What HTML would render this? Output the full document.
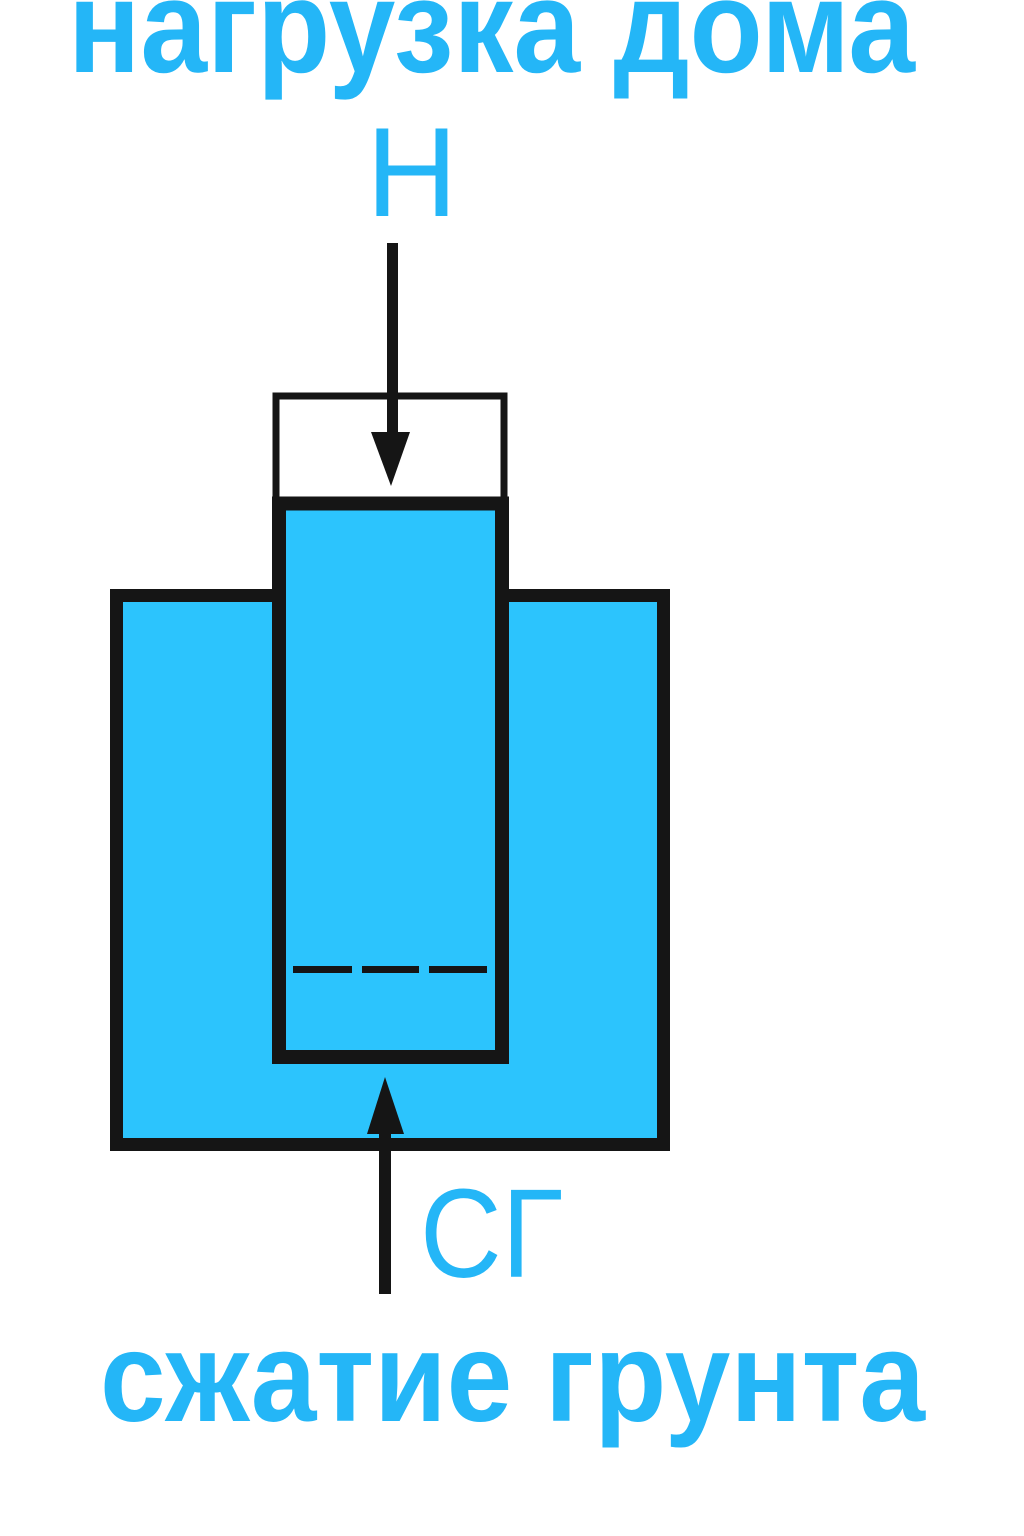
<!DOCTYPE html>
<html><head><meta charset="utf-8"><style>
html,body{margin:0;padding:0;background:#fff;}
svg{display:block;}
text{font-family:"Liberation Sans","DejaVu Sans",sans-serif;fill:#24b6f7;}
</style></head><body>
<svg width="1024" height="1536" viewBox="0 0 1024 1536" xmlns="http://www.w3.org/2000/svg">
<rect width="1024" height="1536" fill="#fff"/>
<text x="68" y="72" font-size="133" font-weight="bold" textLength="847" lengthAdjust="spacingAndGlyphs">нагрузка дома</text>
<text x="366" y="216" font-size="127">Н</text>
<rect x="116.5" y="595.5" width="547" height="549" fill="#2cc4fd" stroke="#151515" stroke-width="13"/>
<rect x="276" y="396" width="228" height="107" fill="#fff" stroke="#151515" stroke-width="7"/>
<rect x="279" y="503.5" width="223" height="553.5" fill="#2cc4fd" stroke="#151515" stroke-width="14"/>
<rect x="293" y="966" width="59" height="7" fill="#151515"/>
<rect x="362" y="966" width="57" height="7" fill="#151515"/>
<rect x="429" y="966" width="58" height="7" fill="#151515"/>
<rect x="387" y="243" width="11" height="192" fill="#151515"/>
<polygon points="371,432 410,432 391,486" fill="#151515"/>
<rect x="379" y="1128" width="12" height="166" fill="#151515"/>
<polygon points="367,1134 404,1134 385,1077" fill="#151515"/>
<text x="420" y="1277" font-size="126" textLength="143" lengthAdjust="spacingAndGlyphs">СГ</text>
<text x="100" y="1421" font-size="128" font-weight="bold" textLength="825" lengthAdjust="spacingAndGlyphs">сжатие грунта</text>
</svg>
</body></html>
